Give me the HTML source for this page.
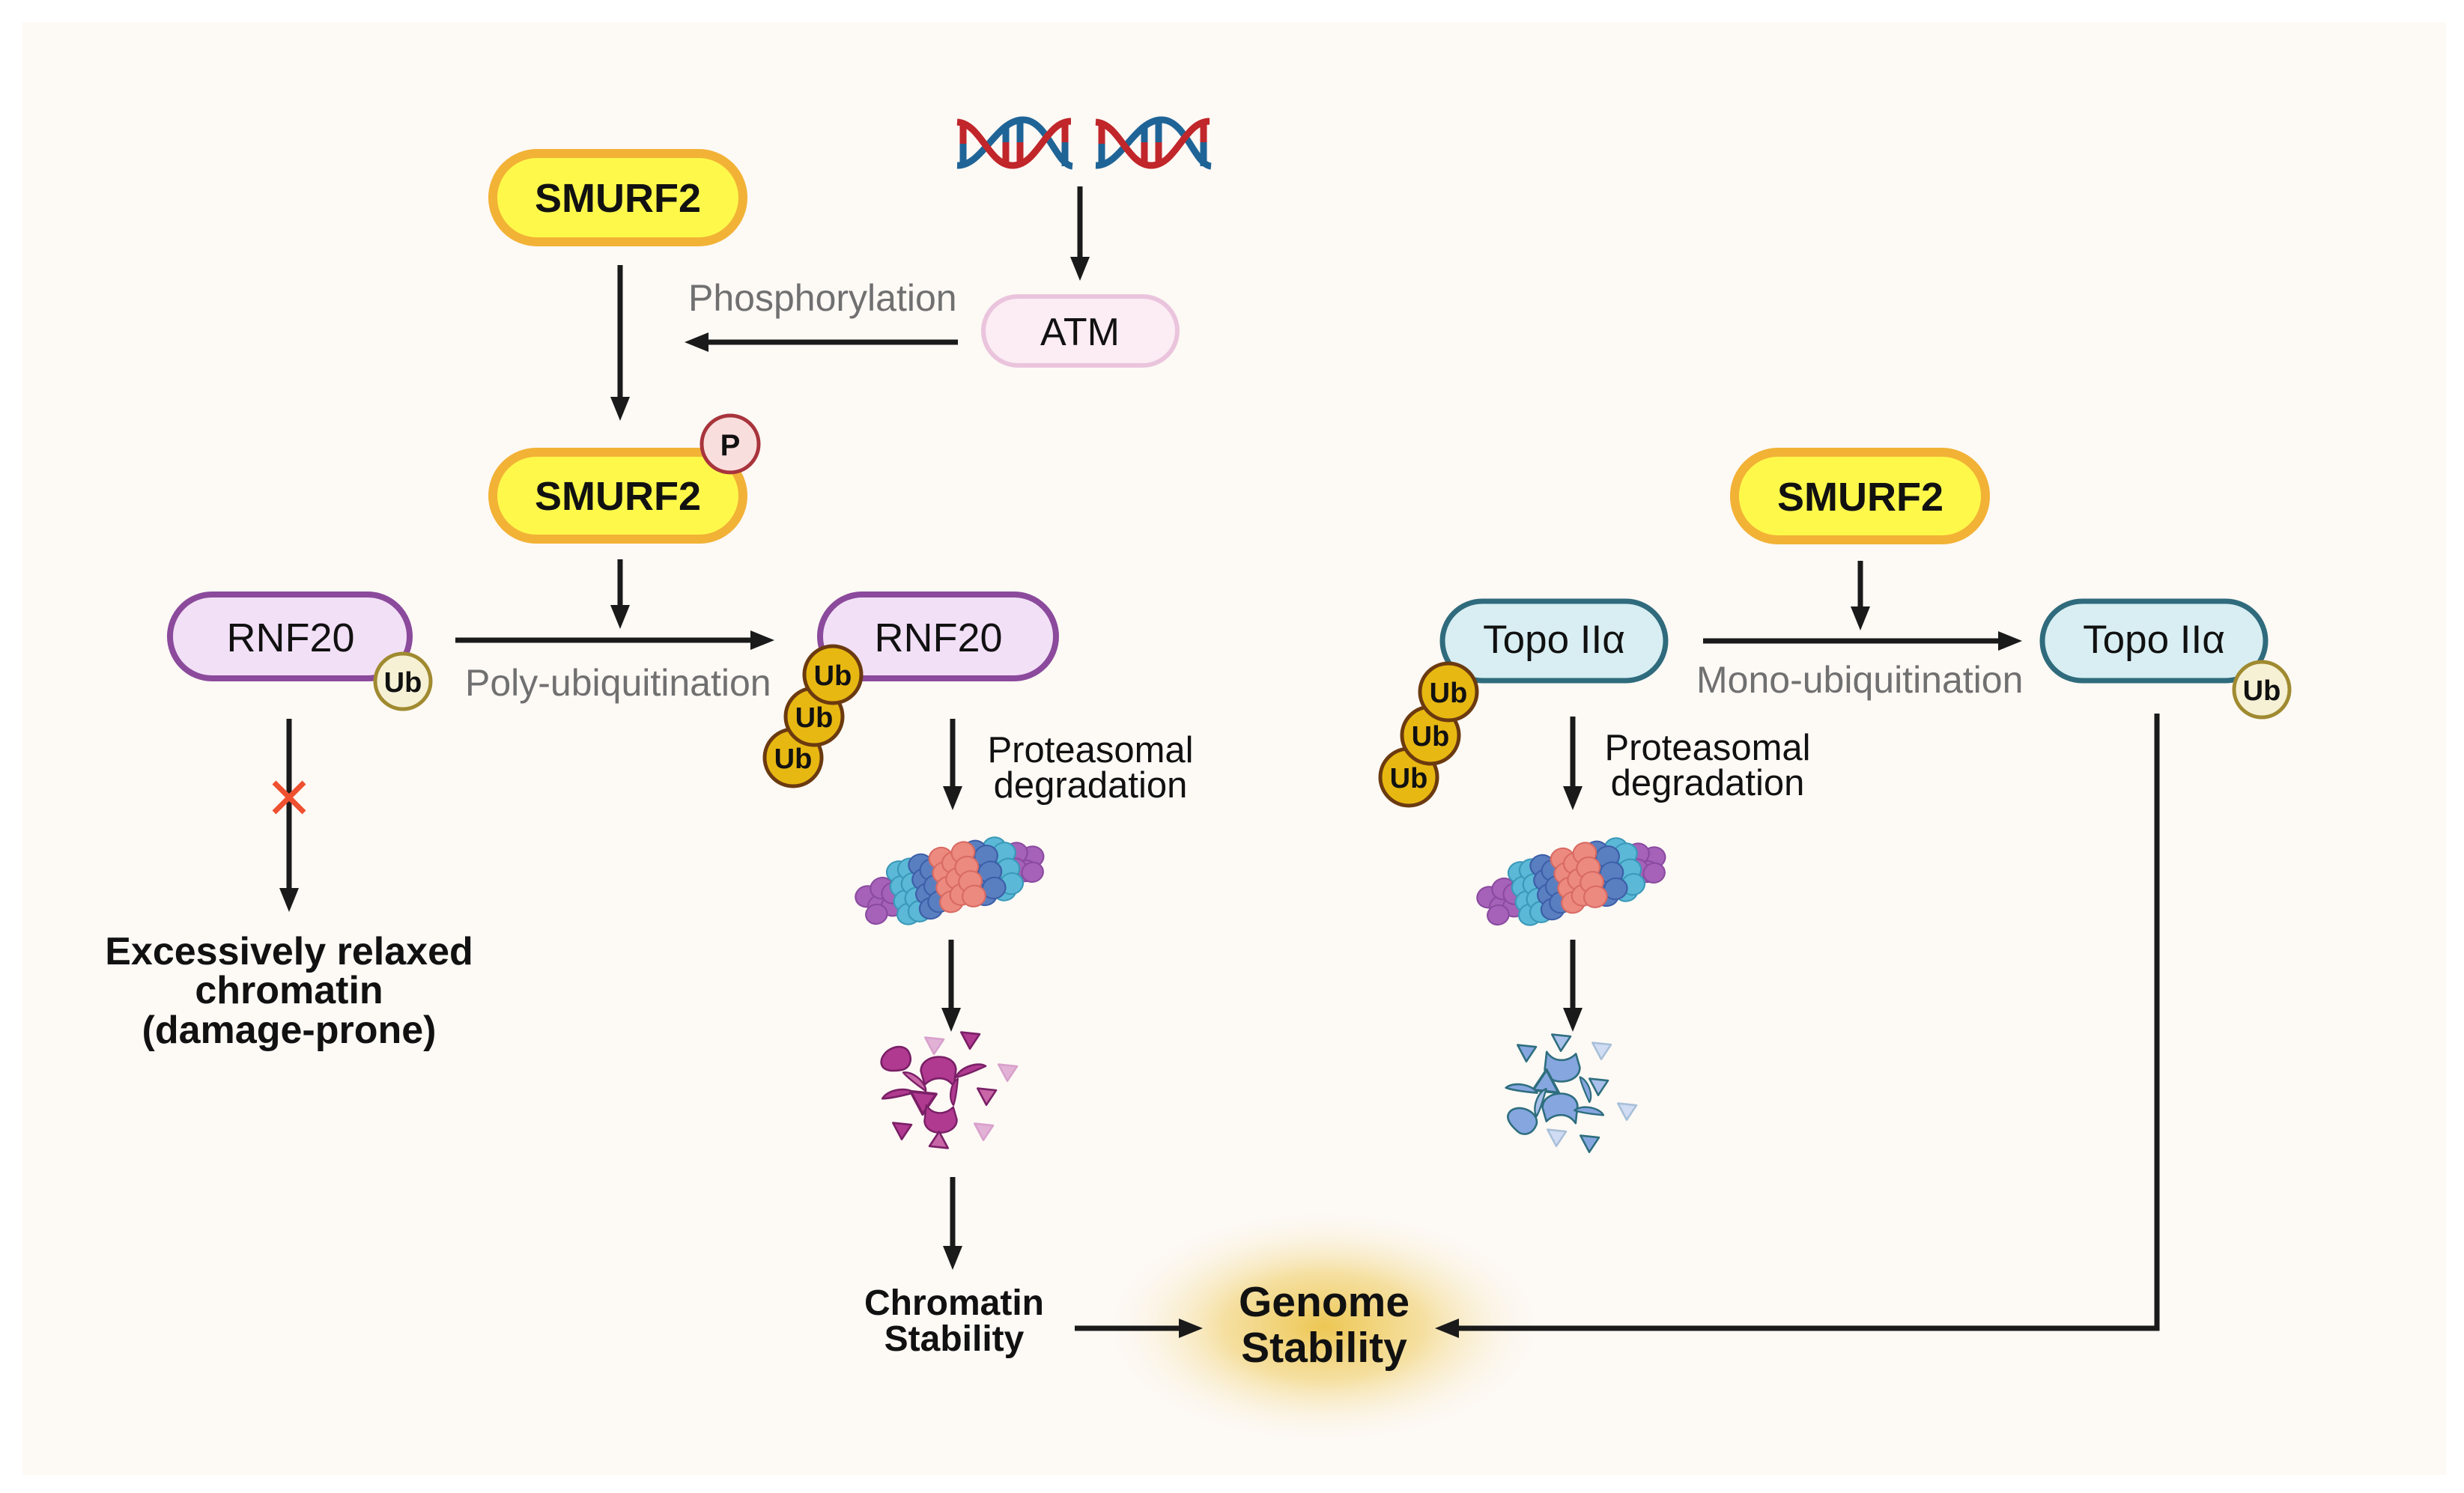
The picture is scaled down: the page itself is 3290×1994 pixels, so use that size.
<!DOCTYPE html>
<html><head><meta charset="utf-8"><style>
html,body{margin:0;padding:0;background:#fff;}
svg{display:block;}
text{font-family:"Liberation Sans",Arial,sans-serif;}
</style></head><body>
<svg width="3290" height="1994" viewBox="0 0 3290 1994" xmlns="http://www.w3.org/2000/svg">
<defs>
<radialGradient id="glow" cx="50%" cy="50%" r="50%">
<stop offset="0" stop-color="#ecc44a" stop-opacity="0.95"/>
<stop offset="0.45" stop-color="#f0cf6a" stop-opacity="0.6"/>
<stop offset="1" stop-color="#fdf9f5" stop-opacity="0"/>
</radialGradient>
<g id="prot">
<g fill="#a562b8" stroke="#8a4aa0" stroke-width="2">
<circle cx="-102" cy="-6" r="14"/><circle cx="-90" cy="10" r="14"/><circle cx="-82" cy="-12" r="14"/><circle cx="-74" cy="14" r="14"/><circle cx="-96" cy="20" r="13"/><circle cx="-70" cy="-2" r="14"/>
<circle cx="104" cy="-4" r="14"/><circle cx="92" cy="12" r="14"/><circle cx="86" cy="-14" r="14"/><circle cx="80" cy="6" r="14"/><circle cx="100" cy="16" r="13"/>
</g>
<g fill="#5bb8d6" stroke="#3a98b8" stroke-width="2">
<circle cx="-58" cy="-28" r="14"/><circle cx="-58" cy="-8" r="14"/><circle cx="-58" cy="12" r="14"/><circle cx="-58" cy="30" r="14"/>
<circle cx="-44" cy="-28" r="14"/><circle cx="-44" cy="-8" r="14"/><circle cx="-44" cy="12" r="14"/><circle cx="-44" cy="30" r="14"/>
<circle cx="62" cy="-28" r="14"/><circle cx="62" cy="-8" r="14"/><circle cx="62" cy="12" r="14"/><circle cx="62" cy="30" r="14"/>
<circle cx="72" cy="-18" r="14"/><circle cx="72" cy="4" r="14"/><circle cx="72" cy="24" r="14"/>
</g>
<g fill="#5a7fc0" stroke="#3d5ea8" stroke-width="2">
<circle cx="-30" cy="-30" r="14"/><circle cx="-30" cy="-10" r="14"/><circle cx="-30" cy="10" r="14"/><circle cx="-30" cy="30" r="14"/>
<circle cx="-18" cy="-20" r="14"/><circle cx="-18" cy="2" r="14"/><circle cx="-18" cy="24" r="14"/>
<circle cx="38" cy="-30" r="14"/><circle cx="38" cy="-10" r="14"/><circle cx="38" cy="10" r="14"/><circle cx="38" cy="30" r="14"/>
<circle cx="50" cy="-20" r="14"/><circle cx="50" cy="2" r="14"/><circle cx="50" cy="24" r="14"/>
</g>
<g fill="#ec8a80" stroke="#d86a62" stroke-width="2">
<circle cx="-4" cy="-32" r="14"/><circle cx="-4" cy="-12" r="14"/><circle cx="-4" cy="8" r="14"/><circle cx="-4" cy="28" r="14"/>
<circle cx="10" cy="-22" r="14"/><circle cx="10" cy="0" r="14"/><circle cx="10" cy="22" r="14"/>
<circle cx="24" cy="-32" r="14"/><circle cx="24" cy="-12" r="14"/><circle cx="24" cy="8" r="14"/><circle cx="24" cy="28" r="14"/>
</g>
</g>
<path id="blob" d="M-16,-4 C-12,-16 10,-18 14,-6 C16,6 8,12 0,10 C-10,8 -18,4 -16,-4Z"/>
<path id="mouth" d="M-18,-2 C-18,-20 16,-22 18,-4 L16,14 C8,2 -6,4 -14,12Z"/>
<path id="tri" d="M-9,-8 L10,-6 L0,9Z"/>
<path id="sliver" d="M-16,4 C-10,-6 10,-8 16,-2 C8,0 -6,4 -16,4Z"/>
</defs>

<rect x="0" y="0" width="3290" height="1994" fill="#fff"/>
<rect x="30" y="30" width="3236" height="1940" fill="#fdf9f5"/>

<ellipse cx="1768" cy="1772" rx="300" ry="160" fill="url(#glow)"/>

<g fill="none" stroke-width="9" stroke-linecap="butt">
<g>
<line x1="1286" y1="163" x2="1286" y2="192" stroke="#c0262a"/><line x1="1286" y1="192" x2="1286" y2="222" stroke="#1f6497"/>
<line x1="1343" y1="180" x2="1343" y2="220" stroke="#c0262a"/><line x1="1343" y1="170" x2="1343" y2="190" stroke="#1f6497"/>
<line x1="1362" y1="162" x2="1362" y2="190" stroke="#1f6497"/><line x1="1362" y1="190" x2="1362" y2="220" stroke="#c0262a"/>
<line x1="1422" y1="163" x2="1422" y2="190" stroke="#c0262a"/><line x1="1422" y1="190" x2="1422" y2="222" stroke="#1f6497"/>
<path d="M1278,221 C1312,222 1330,160 1366,160 C1398,160 1410,220 1432,222" stroke="#1f6497"/>
<path d="M1278,163 C1310,165 1320,221 1352,221 C1386,221 1396,162 1430,162" stroke="#c0262a"/>
</g>
<g transform="translate(185,0)">
<line x1="1286" y1="163" x2="1286" y2="192" stroke="#c0262a"/><line x1="1286" y1="192" x2="1286" y2="222" stroke="#1f6497"/>
<line x1="1343" y1="180" x2="1343" y2="220" stroke="#c0262a"/><line x1="1343" y1="170" x2="1343" y2="190" stroke="#1f6497"/>
<line x1="1362" y1="162" x2="1362" y2="190" stroke="#1f6497"/><line x1="1362" y1="190" x2="1362" y2="220" stroke="#c0262a"/>
<line x1="1422" y1="163" x2="1422" y2="190" stroke="#c0262a"/><line x1="1422" y1="190" x2="1422" y2="222" stroke="#1f6497"/>
<path d="M1278,221 C1312,222 1330,160 1366,160 C1398,160 1410,220 1432,222" stroke="#1f6497"/>
<path d="M1278,163 C1310,165 1320,221 1352,221 C1386,221 1396,162 1430,162" stroke="#c0262a"/>
</g>
</g>

<g stroke="#1a1a1a" stroke-width="7" fill="none">
<line x1="1442" y1="249" x2="1442" y2="345"/>
<line x1="1279" y1="457" x2="944" y2="457"/>
<line x1="828" y1="354" x2="828" y2="532"/>
<line x1="828" y1="747" x2="828" y2="810"/>
<line x1="608" y1="855" x2="1004" y2="855"/>
<line x1="2484" y1="749" x2="2484" y2="812"/>
<line x1="2274" y1="856" x2="2670" y2="856"/>
<line x1="386" y1="960" x2="386" y2="1188"/>
<line x1="1272" y1="960" x2="1272" y2="1052"/>
<line x1="1270" y1="1255" x2="1270" y2="1348"/>
<line x1="1272" y1="1572" x2="1272" y2="1666"/>
<line x1="2100" y1="957" x2="2100" y2="1052"/>
<line x1="2100" y1="1255" x2="2100" y2="1348"/>
<line x1="1435" y1="1774" x2="1576" y2="1774"/>
<polyline points="2880,953 2880,1774 1946,1774"/>
</g>
<g fill="#1a1a1a">
<polygon points="1429,343 1455,343 1442,375"/>
<polygon points="946,444 946,470 914,457"/>
<polygon points="815,530 841,530 828,562"/>
<polygon points="815,808 841,808 828,840"/>
<polygon points="1002,842 1002,868 1034,855"/>
<polygon points="2471,810 2497,810 2484,842"/>
<polygon points="2668,843 2668,869 2700,856"/>
<polygon points="373,1186 399,1186 386,1218"/>
<polygon points="1259,1050 1285,1050 1272,1082"/>
<polygon points="1257,1346 1283,1346 1270,1378"/>
<polygon points="1259,1664 1285,1664 1272,1696"/>
<polygon points="2087,1050 2113,1050 2100,1082"/>
<polygon points="2087,1346 2113,1346 2100,1378"/>
<polygon points="1574,1761 1574,1787 1606,1774"/>
<polygon points="1948,1761 1948,1787 1916,1774"/>
</g>
<g stroke="#ee5030" stroke-width="7">
<line x1="366" y1="1045" x2="406" y2="1085"/><line x1="406" y1="1045" x2="366" y2="1085"/>
</g>

<g stroke-width="12">
<rect x="658" y="205" width="334" height="118" rx="59" fill="#fef84b" stroke="#f2b236"/>
<rect x="658" y="604" width="334" height="116" rx="58" fill="#fef84b" stroke="#f2b236"/>
<rect x="2316" y="604" width="335" height="117" rx="58" fill="#fef84b" stroke="#f2b236"/>
</g>
<rect x="1313" y="396" width="259" height="92" rx="46" fill="#fcecf4" stroke="#eac4dc" stroke-width="6"/>
<g stroke="#8b4a9c" stroke-width="8" fill="#f2e0f7">
<rect x="227" y="794" width="320" height="112" rx="56"/>
<rect x="1095" y="794" width="315" height="112" rx="56"/>
</g>
<g stroke="#2f6b7c" stroke-width="7" fill="#d8eef2">
<rect x="1926" y="803" width="298" height="106" rx="53"/>
<rect x="2727" y="803" width="298" height="106" rx="53"/>
</g>

<circle cx="975" cy="593" r="38" fill="#f9dede" stroke="#a8343c" stroke-width="5"/>
<text x="975" y="608" font-size="40" font-weight="bold" text-anchor="middle" fill="#111">P</text>

<g stroke="#a08a30" stroke-width="5" fill="#f6f1d4">
<circle cx="538" cy="910" r="37"/>
<circle cx="3020" cy="921" r="37"/>
</g>
<g stroke="#6b3a10" stroke-width="5" fill="#e8b812">
<circle cx="1059" cy="1012" r="38"/>
<circle cx="1087" cy="957" r="38"/>
<circle cx="1112" cy="901" r="38"/>
<circle cx="1881" cy="1038" r="38"/>
<circle cx="1910" cy="982" r="38"/>
<circle cx="1934" cy="924" r="38"/>
</g>
<g font-size="38" font-weight="bold" text-anchor="middle" fill="#111">
<text x="538" y="924">Ub</text>
<text x="3020" y="935">Ub</text>
<text x="1059" y="1026">Ub</text>
<text x="1087" y="971">Ub</text>
<text x="1112" y="915">Ub</text>
<text x="1881" y="1052">Ub</text>
<text x="1910" y="996">Ub</text>
<text x="1934" y="938">Ub</text>
</g>

<g font-size="54" font-weight="bold" text-anchor="middle" fill="#111">
<text x="825" y="283">SMURF2</text>
<text x="825" y="681">SMURF2</text>
<text x="2484" y="682">SMURF2</text>
</g>
<g font-size="54" text-anchor="middle" fill="#111">
<text x="1442" y="461" font-size="52">ATM</text>
<text x="388" y="870">RNF20</text>
<text x="1253" y="870">RNF20</text>
<text x="2075" y="872" font-size="53">Topo IIα</text>
<text x="2876" y="872" font-size="53">Topo IIα</text>
</g>

<g font-size="50" fill="#707070">
<text x="919" y="415">Phosphorylation</text>
<text x="621" y="929">Poly-ubiquitination</text>
<text x="2265" y="925">Mono-ubiquitination</text>
</g>
<g font-size="49" fill="#111" text-anchor="middle">
<text x="1456" y="1018">Proteasomal</text>
<text x="1456" y="1065">degradation</text>
<text x="2280" y="1015">Proteasomal</text>
<text x="2280" y="1062">degradation</text>
</g>
<g font-weight="bold" fill="#111" text-anchor="middle">
<text x="386" y="1288" font-size="52">Excessively relaxed</text>
<text x="386" y="1340" font-size="52">chromatin</text>
<text x="386" y="1393" font-size="52">(damage-prone)</text>
<text x="1274" y="1756" font-size="48">Chromatin</text>
<text x="1274" y="1804" font-size="48">Stability</text>
<text x="1768" y="1758" font-size="57">Genome</text>
<text x="1768" y="1819" font-size="57">Stability</text>
</g>

<use href="#prot" transform="translate(1268,1176) rotate(-14) scale(1.1,1)"/>
<use href="#prot" transform="translate(2098,1177) rotate(-14) scale(1.1,1)"/>

<g stroke="#7a1f66" stroke-width="2" stroke-linejoin="round">
<use href="#blob" fill="#b03a90" transform="translate(1198,1417) rotate(-20) scale(1.3)"/>
<use href="#mouth" fill="#b03a90" transform="translate(1253,1433) scale(1.3)"/>
<use href="#sliver" fill="#b03a90" transform="translate(1296,1430) rotate(-10) scale(1.3)"/>
<use href="#sliver" fill="#c866a8" transform="translate(1222,1444) rotate(50) scale(1.2)"/>
<use href="#sliver" fill="#b03a90" transform="translate(1199,1462) scale(1.3)"/>
<use href="#tri" fill="#b03a90" transform="translate(1232,1472) scale(1.8)"/>
<use href="#sliver" fill="#b03a90" transform="translate(1275,1458) rotate(-70) scale(1.1)"/>
<use href="#tri" fill="#c866a8" transform="translate(1317,1464) scale(1.3)"/>
<use href="#mouth" fill="#b03a90" transform="translate(1256,1493) rotate(180) scale(1.2)"/>
<use href="#tri" fill="#b03a90" transform="translate(1204,1510) scale(1.3)"/>
<use href="#tri" fill="#c866a8" transform="translate(1254,1523) rotate(180) scale(1.3)"/>
<use href="#tri" fill="#e2b2d6" stroke="#d8a0cc" transform="translate(1313,1511) scale(1.3)"/>
<use href="#tri" fill="#e2b2d6" stroke="#d8a0cc" transform="translate(1345,1432) scale(1.3)"/>
<use href="#tri" fill="#b03a90" transform="translate(1295,1389) scale(1.3)"/>
<use href="#tri" fill="#e2b2d6" stroke="#d8a0cc" transform="translate(1247,1396) scale(1.3)"/>
</g>
<g stroke="#2e6e7e" stroke-width="2" stroke-linejoin="round">
<use href="#tri" fill="#86a6e0" transform="translate(2038,1406) scale(1.3)"/>
<use href="#tri" fill="#a8c0ea" transform="translate(2084,1392) scale(1.3)"/>
<use href="#tri" fill="#d0dcf4" stroke="#a8c0d8" transform="translate(2138,1403) scale(1.3)"/>
<use href="#mouth" fill="#86a6e0" transform="translate(2086,1423) rotate(180) scale(1.3)"/>
<use href="#tri" fill="#86a6e0" transform="translate(2065,1445) rotate(180) scale(1.8)"/>
<use href="#sliver" fill="#86a6e0" transform="translate(2032,1455) rotate(20) scale(1.3)"/>
<use href="#sliver" fill="#86a6e0" transform="translate(2117,1455) rotate(80) scale(1.1)"/>
<use href="#tri" fill="#a8c0ea" transform="translate(2134,1451) scale(1.3)"/>
<use href="#sliver" fill="#a8c0ea" transform="translate(2057,1472) rotate(-60) scale(1.2)"/>
<use href="#mouth" fill="#86a6e0" transform="translate(2083,1482) scale(1.3)"/>
<use href="#sliver" fill="#86a6e0" transform="translate(2122,1485) rotate(20) scale(1.2)"/>
<use href="#blob" fill="#86a6e0" transform="translate(2032,1499) rotate(30) scale(1.3)"/>
<use href="#tri" fill="#d0dcf4" stroke="#a8c0d8" transform="translate(2078,1519) scale(1.3)"/>
<use href="#tri" fill="#86a6e0" transform="translate(2122,1527) scale(1.3)"/>
<use href="#tri" fill="#d0dcf4" stroke="#a8c0d8" transform="translate(2172,1484) scale(1.3)"/>
</g>
</svg>
</body></html>
